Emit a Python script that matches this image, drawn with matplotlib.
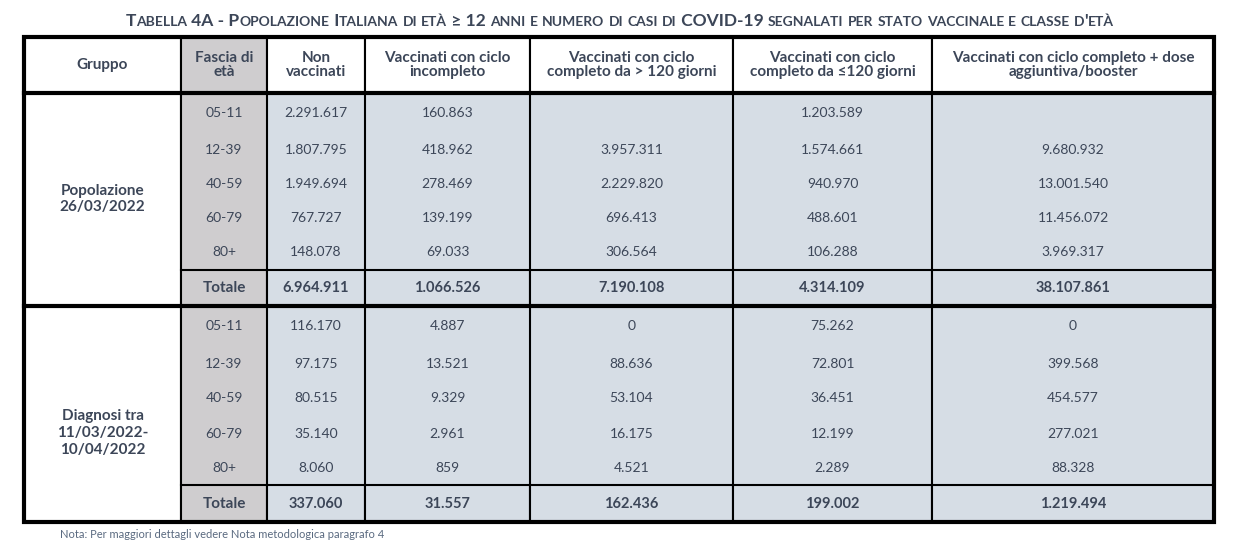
import matplotlib
matplotlib.use("Agg")
import matplotlib.pyplot as plt
from matplotlib.patches import Rectangle

plt.rcParams["font.family"] = "Lato"

title = "Tabella 4A - Popolazione Italiana di età ≥ 12 anni e numero di casi di COVID-19 segnalati per stato vaccinale e classe d'età"
headers = ["Gruppo", "Fascia di\netà", "Non\nvaccinati", "Vaccinati con ciclo\nincompleto",
           "Vaccinati con ciclo\ncompleto da > 120 giorni", "Vaccinati con ciclo\ncompleto da ≤120 giorni",
           "Vaccinati con ciclo completo + dose\naggiuntiva/booster"]
groups = ["Popolazione\n26/03/2022", "Diagnosi tra\n11/03/2022-\n10/04/2022"]
ages = ["05-11", "12-39", "40-59", "60-79", "80+"]
pop_values = [
    ["2.291.617", "160.863", "", "1.203.589", ""],
    ["1.807.795", "418.962", "3.957.311", "1.574.661", "9.680.932"],
    ["1.949.694", "278.469", "2.229.820", "940.970", "13.001.540"],
    ["767.727", "139.199", "696.413", "488.601", "11.456.072"],
    ["148.078", "69.033", "306.564", "106.288", "3.969.317"],
]
pop_totals = ["6.964.911", "1.066.526", "7.190.108", "4.314.109", "38.107.861"]
diag_values = [
    ["116.170", "4.887", "0", "75.262", "0"],
    ["97.175", "13.521", "88.636", "72.801", "399.568"],
    ["80.515", "9.329", "53.104", "36.451", "454.577"],
    ["35.140", "2.961", "16.175", "12.199", "277.021"],
    ["8.060", "859", "4.521", "2.289", "88.328"],
]
diag_totals = ["337.060", "31.557", "162.436", "199.002", "1.219.494"]
note = "Nota: Per maggiori dettagli vedere Nota metodologica paragrafo 4"

TXT = "#3c4658"
GREY = "#cfcdcf"
BLUE = "#d6dde5"
col_x = [24, 181, 267, 365, 530, 733, 932, 1214]
row_y1 = [93, 133, 168, 201, 235, 270, 306]
row_y2 = [306, 346, 381, 416, 451, 485, 522]
label_y = [199, 433]

fig = plt.figure(figsize=(12.39, 5.48), dpi=100)
ax = fig.add_axes([0, 0, 1, 1])
ax.set_xlim(0, 1239)
ax.set_ylim(548, 0)
ax.axis("off")

# title in small caps
renderer = fig.canvas.get_renderer()
pieces = []
for ch in title:
    small = ch.islower()
    if pieces and pieces[-1][1] == small:
        pieces[-1][0] += ch
    else:
        pieces.append([ch, small])
x = 0
tobjs = []
for s, small in pieces:
    t = ax.text(x, 26, s.upper(), fontsize=10 if small else 12.5, fontweight="bold",
                color=TXT, va="baseline", ha="left")
    tobjs.append(t)
    x += t.get_window_extent(renderer).width
start = 620 - x / 2
for t in tobjs:
    t.set_x(t.get_position()[0] + start)

def cell(x0, x1, y0, y1, color):
    ax.add_patch(Rectangle((x0, y0), x1 - x0, y1 - y0, facecolor=color, edgecolor="black", lw=1.5))

# header
for i, h in enumerate(headers):
    cell(col_x[i], col_x[i + 1], 37, 93, GREY if i == 1 else "white")
    ax.text((col_x[i] + col_x[i + 1]) / 2, 65, h, ha="center", va="center", fontsize=11,
            fontweight="bold", color=TXT, linespacing=1.05)

def block(ry, vals, totals, label, ly):
    cell(col_x[0], col_x[1], ry[0], ry[-1], "white")
    ax.text((col_x[0] + col_x[1]) / 2, ly, label, ha="center", va="center",
            fontsize=11, fontweight="bold", color=TXT, linespacing=1.25)
    ax.add_patch(Rectangle((col_x[1], ry[0]), col_x[2] - col_x[1], ry[5] - ry[0], facecolor=GREY, lw=0))
    ax.add_patch(Rectangle((col_x[2], ry[0]), col_x[-1] - col_x[2], ry[5] - ry[0], facecolor=BLUE, lw=0))
    for c in range(1, 8):
        ax.plot([col_x[c], col_x[c]], [ry[0], ry[5]], color="black", lw=1.5)
    for r in range(5):
        yc = (ry[r] + ry[r + 1]) / 2
        ax.text((col_x[1] + col_x[2]) / 2, yc, ages[r], ha="center", va="center", fontsize=10, color=TXT)
        for j, v in enumerate(vals[r]):
            ax.text((col_x[j + 2] + col_x[j + 3]) / 2, yc, v, ha="center", va="center", fontsize=10, color=TXT)
    cell(col_x[1], col_x[2], ry[5], ry[6], GREY)
    ax.text((col_x[1] + col_x[2]) / 2, (ry[5] + ry[6]) / 2, "Totale", ha="center", va="center",
            fontsize=11, fontweight="bold", color=TXT)
    for j, v in enumerate(totals):
        cell(col_x[j + 2], col_x[j + 3], ry[5], ry[6], BLUE)
        ax.text((col_x[j + 2] + col_x[j + 3]) / 2, (ry[5] + ry[6]) / 2, v, ha="center", va="center",
                fontsize=10.5, fontweight="bold", color=TXT)

block(row_y1, pop_values, pop_totals, groups[0], label_y[0])
block(row_y2, diag_values, diag_totals, groups[1], label_y[1])

# thick lines
ax.add_patch(Rectangle((col_x[0], 37), col_x[-1] - col_x[0], 522 - 37, fill=False, edgecolor="black", lw=3))
for y in (93, 306):
    ax.plot([col_x[0], col_x[-1]], [y, y], color="black", lw=3)

ax.text(60, 534, note, ha="left", va="center", fontsize=8, color="#5a6a80")

fig.savefig("out.png", dpi=100)
